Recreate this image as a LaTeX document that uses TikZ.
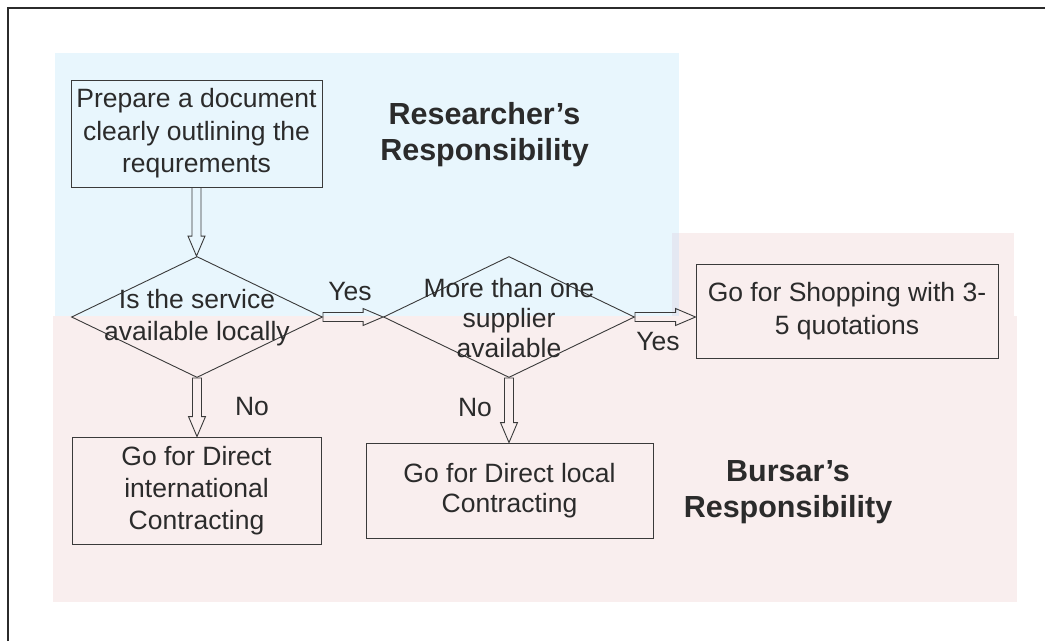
\documentclass[tikz,border=0pt]{standalone}
\usepackage{fontspec}
\setmainfont{Liberation Sans}
\usetikzlibrary{shapes.geometric,calc}
\definecolor{bluebg}{HTML}{E8F6FD}
\definecolor{pinkbg}{HTML}{F9EEEE}
\definecolor{overlapbg}{HTML}{E4E8F2}
\definecolor{ink}{HTML}{2B2B2B}
\definecolor{edge}{HTML}{3A3A3A}
\newcommand{\vblock}[2]{\draw[blk] let \p1=(#1), \p2=(#2) in (\x1-4.5pt,\y1) -- (\x1-4.5pt,\y2+20pt) -- (\x1-8.5pt,\y2+20pt) -- (\x1,\y2) -- (\x1+8.5pt,\y2+20pt) -- (\x1+4.5pt,\y2+20pt) -- (\x1+4.5pt,\y1) -- cycle;}
\newcommand{\hblock}[2]{\draw[blk] let \p1=(#1), \p2=(#2) in (\x1,\y1+4.5pt) -- (\x2-20pt,\y1+4.5pt) -- (\x2-20pt,\y1+8.5pt) -- (\x2,\y1) -- (\x2-20pt,\y1-8.5pt) -- (\x2-20pt,\y1-4.5pt) -- (\x1,\y1-4.5pt) -- cycle;}
\tikzset{
  box/.style={draw=edge, line width=0.9pt, align=center, text=ink, inner sep=0pt,
    font=\fontsize{26.5}{32.5}\selectfont},
  dia/.style={draw=edge, line width=0.9pt, shape=diamond, inner sep=0pt,
    minimum width=251pt, minimum height=121pt},
  txt/.style={align=center, text=ink, inner sep=0pt, font=\fontsize{26.5}{32}\selectfont},
  lbl/.style={text=ink, inner sep=0pt, font=\fontsize{26.5}{32}\selectfont},
  head/.style={align=center, text=ink, inner sep=0pt, font=\fontsize{30.5}{36}\selectfont\bfseries},
  blk/.style={draw=edge, line width=0.9pt}
}
\begin{document}
\begin{tikzpicture}[x=1pt, y=-1pt]
\useasboundingbox (0,0) rectangle (1045,641);
% backgrounds
\fill[bluebg] (55,53) rectangle (679,316);
\fill[pinkbg] (53,316) rectangle (1017,602);
\fill[pinkbg] (672,233) rectangle (1014,318);
\fill[overlapbg] (672,233) rectangle (679,316);
% frame
\draw[line width=2.5pt, color=ink] (8,641) -- (8,8) -- (1045,8);
% nodes
\node[box, minimum width=251pt, minimum height=107pt] (prep) at (196.5,133.5) {Prepare a document\\clearly outlining the\\requrements};
\node[dia] (d1) at (197,317) {};
\node[txt] (d1t) at (197,318) {Is the service\\available locally};
\node[dia] (d2) at (509,317) {};
\node[txt, font=\fontsize{26.5}{30}\selectfont] (d2t) at (509,318) {More than one\\supplier\\available};
\node[box, minimum width=302pt, minimum height=94pt] (shop) at (847,311) {Go for Shopping with 3-\\5 quotations};
\node[box, minimum width=249pt, minimum height=107pt, font=\fontsize{26.5}{32}\selectfont] (intl) at (196.5,490.5) {Go for Direct\\international\\Contracting};
\node[box, minimum width=287pt, minimum height=95pt, font=\fontsize{26.5}{30}\selectfont] (locl) at (509.5,490.5) {Go for Direct local\\Contracting};
\node[head] (res) at (484.5,135) {Researcher’s\\Responsibility};
\node[head] (bur) at (788,492) {Bursar’s\\Responsibility};
% labels
\node[lbl] (yes1) at (350,292) {Yes};
\node[lbl] (yes2) at (658,342) {Yes};
\node[lbl] (no1) at (252,407) {No};
\node[lbl] (no2) at (475,408) {No};
% connectors
\vblock{prep.south}{d1.north}
\vblock{d1.south}{intl.north}
\vblock{d2.south}{locl.north}
\hblock{d1.east}{d2.west}
\hblock{d2.east}{shop.west}
\end{tikzpicture}
\end{document}
